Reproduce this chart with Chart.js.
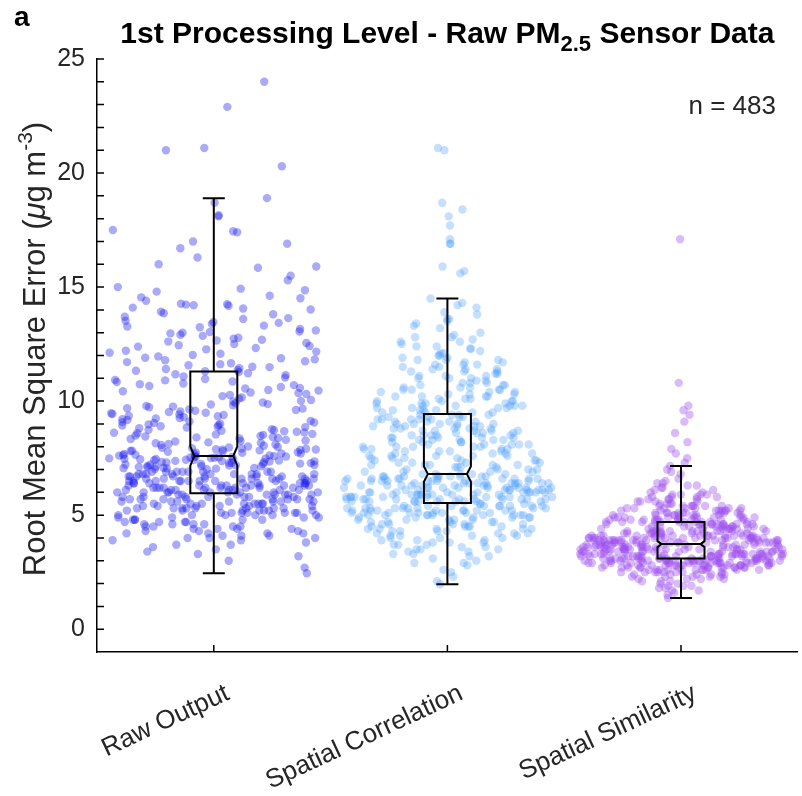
<!DOCTYPE html>
<html>
<head>
<meta charset="utf-8">
<script src="https://cdn.jsdelivr.net/npm/chart.js@4.4.1/dist/chart.umd.min.js"></script>
<style>
html, body { margin: 0; padding: 0; background: #fff; }
canvas { display: block; }
</style>
</head>
<body>
<canvas id="mycanvas" width="802" height="796"></canvas>
<script>
// categories and RMSE values (n = 483 sensors each)
var categories = ['Raw Output', 'Spatial Correlation', 'Spatial Similarity'];

var rawOutput = [
  24.0, 22.9, 21.1, 21.0, 20.3, 18.9, 18.7, 18.15, 18.1, 17.5, 17.45, 17.4, 17.0, 16.9, 16.7, 16.3, 16.0, 15.9, 15.85, 15.5, 15.3, 15.0,
  14.93, 14.86, 14.8, 14.62, 14.55, 14.51, 14.4, 14.27, 14.25, 14.23, 14.2, 14.18, 14.1, 14.06, 14.02,
  13.92, 13.85, 13.81, 13.64, 13.6, 13.52, 13.47, 13.43, 13.31, 13.27, 13.24, 13.1, 13.05, 13.03, 13.0, 13.38, 13.7, 13.16,
  12.97, 12.91, 12.78, 12.74, 12.66, 12.61, 12.55, 12.42, 12.39, 12.33, 12.21, 12.17, 12.08, 12.02, 12.5, 12.86, 12.27, 12.12, 12.69, 12.45,
  11.96, 11.88, 11.83, 11.79, 11.71, 11.62, 11.57, 11.51, 11.49, 11.44, 11.37, 11.33, 11.31, 11.66, 11.9, 11.41, 11.75,
  11.27, 11.22, 11.14, 11.08, 11.03, 10.97, 10.91, 10.86, 10.84, 10.77, 10.7, 10.66, 10.58, 10.55, 10.49, 10.43, 10.38, 10.31, 10.27, 10.22,
  10.16, 10.11, 10.05, 10.01, 10.93, 10.62, 10.35, 11.18, 10.74, 10.46,
  9.98, 9.94, 9.91, 9.87, 9.82, 9.76, 9.73, 9.69, 9.64, 9.61, 9.58, 9.52, 9.47, 9.43, 9.39, 9.34, 9.3, 9.26, 9.21, 9.17,
  9.13, 9.08, 9.04, 9.01, 9.85, 9.55, 9.36, 9.11, 9.67, 9.49, 9.24, 9.79, 9.06, 9.41,
  8.98, 8.95, 8.93, 8.88, 8.84, 8.81, 8.77, 8.74, 8.7, 8.66, 8.63, 8.59, 8.56, 8.52, 8.49, 8.45, 8.41, 8.38, 8.34, 8.3,
  8.27, 8.23, 8.19, 8.15, 8.12, 8.08, 8.04, 8.01, 8.9, 8.72, 8.54, 8.36, 8.17, 8.61, 8.43, 8.25, 8.86, 8.68, 8.1, 8.47,
  7.99, 7.97, 7.94, 7.92, 7.89, 7.86, 7.84, 7.81, 7.78, 7.76, 7.73, 7.7, 7.68, 7.65, 7.63, 7.61, 7.95, 7.87, 7.8, 7.74, 7.67, 7.91, 7.83, 7.71, 7.62, 7.88,
  7.59, 7.57, 7.55, 7.53, 7.52, 7.5, 7.48, 7.46, 7.44, 7.42, 7.41, 7.39, 7.37, 7.35, 7.33, 7.31, 7.3, 7.28, 7.26, 7.24,
  7.22, 7.2, 7.18, 7.16, 7.14, 7.12, 7.1, 7.08, 7.06, 7.04, 7.02, 7.01, 7.56, 7.49, 7.43, 7.36, 7.29, 7.21, 7.15, 7.07,
  7.58, 7.45, 7.32, 7.19, 7.05, 7.54, 7.38, 7.25, 7.11, 7.47,
  6.0, 6.0, 6.0, 6.0, 6.0, 6.0, 6.0, 6.0, 6.0,
  6.1, 6.1, 6.1, 6.1, 6.1, 6.1, 6.1, 6.1,
  6.2, 6.2, 6.2, 6.2, 6.2, 6.2, 6.2, 6.2, 6.2, 6.2,
  6.3, 6.3, 6.3, 6.3, 6.3, 6.3, 6.3, 6.3, 6.3,
  6.4, 6.4, 6.4, 6.4, 6.4, 6.4, 6.4, 6.4,
  6.5, 6.5, 6.5, 6.5, 6.5, 6.5, 6.5, 6.5, 6.5, 6.5,
  6.6, 6.6, 6.6, 6.6, 6.6, 6.6, 6.6, 6.6, 6.6,
  6.7, 6.7, 6.7, 6.7, 6.7, 6.7, 6.7, 6.7,
  6.8, 6.8, 6.8, 6.8, 6.8, 6.8, 6.8, 6.8, 6.8,
  6.9, 6.9, 6.9, 6.9, 6.9, 6.9, 6.9, 6.9,
  5.0, 5.0, 5.0, 5.0, 5.0, 5.0,
  5.1, 5.1, 5.1, 5.1, 5.1, 5.1, 5.1,
  5.2, 5.2, 5.2, 5.2, 5.2, 5.2, 5.2,
  5.3, 5.3, 5.3, 5.3, 5.3, 5.3, 5.3, 5.3,
  5.4, 5.4, 5.4, 5.4, 5.4, 5.4,
  5.5, 5.5, 5.5, 5.5, 5.5, 5.5, 5.5, 5.5,
  5.6, 5.6, 5.6, 5.6, 5.6, 5.6, 5.6,
  5.7, 5.7, 5.7, 5.7, 5.7, 5.7, 5.7, 5.7,
  5.8, 5.8, 5.8, 5.8, 5.8, 5.8, 5.8,
  5.9, 5.9, 5.9, 5.9, 5.9, 5.9, 5.9, 5.9,
  4.0, 4.0, 4.0, 4.1, 4.1, 4.1, 4.2, 4.2, 4.2, 4.2, 4.3, 4.3, 4.3, 4.4, 4.4, 4.4, 4.4, 4.5, 4.5, 4.5, 4.5,
  4.6, 4.6, 4.6, 4.6, 4.7, 4.7, 4.7, 4.7, 4.8, 4.8, 4.8, 4.8, 4.8, 4.9, 4.9, 4.9, 4.9,
  3.0, 3.2, 3.3, 3.4, 3.5, 3.6, 3.7, 3.7, 3.8, 3.9, 3.9,
  2.45, 2.7
];

var spatialCorrelation = [
  21.1, 21.0, 18.7, 18.4, 18.1, 17.7, 17.1, 16.9, 16.9, 15.9, 15.7, 15.6,
  14.5, 14.3, 14.2, 14.1,
  13.9, 13.8, 13.6, 13.6, 13.5, 13.4, 13.3, 13.2, 13.0,
  12.9, 12.8, 12.8, 12.7, 12.6, 12.6, 12.5, 12.4, 12.4, 12.3, 12.3, 12.2, 12.1, 12.1, 12.0, 12.0,
  11.9, 11.9, 11.8, 11.8, 11.8, 11.7, 11.7, 11.6, 11.6, 11.6, 11.5, 11.5, 11.4, 11.4, 11.4,
  11.3, 11.3, 11.3, 11.2, 11.2, 11.1, 11.1, 11.1, 11.0, 11.0, 11.0,
  10.9, 10.9, 10.8, 10.8, 10.8, 10.7, 10.7, 10.7, 10.6, 10.6, 10.6, 10.5, 10.5, 10.5, 10.5, 10.4,
  10.4, 10.4, 10.3, 10.3, 10.3, 10.2, 10.2, 10.2, 10.2, 10.1, 10.1, 10.1, 10.0, 10.0, 10.0, 10.0,
  9.9, 9.9, 9.9, 9.9, 9.8, 9.8, 9.8, 9.8, 9.8, 9.7, 9.7, 9.7, 9.7, 9.6, 9.6, 9.6, 9.6, 9.5, 9.5, 9.5, 9.5,
  9.4, 9.4, 9.4, 9.4, 9.3, 9.3, 9.3, 9.3, 9.2, 9.2, 9.2, 9.2, 9.2, 9.1, 9.1, 9.1, 9.1, 9.0, 9.0, 9.0, 9.0, 9.0,
  8.9, 8.9, 8.9, 8.9, 8.9, 8.8, 8.8, 8.8, 8.8, 8.8, 8.7, 8.7, 8.7, 8.7, 8.7, 8.6, 8.6, 8.6, 8.6,
  8.5, 8.5, 8.5, 8.5, 8.5, 8.4, 8.4, 8.4, 8.4, 8.4, 8.3, 8.3, 8.3, 8.3, 8.3,
  8.2, 8.2, 8.2, 8.2, 8.1, 8.1, 8.1, 8.1, 8.1, 8.0, 8.0, 8.0, 8.0, 8.0,
  7.9, 7.9, 7.9, 7.9, 7.8, 7.8, 7.8, 7.8, 7.7, 7.7, 7.7, 7.7, 7.6, 7.6, 7.6, 7.6, 7.6,
  7.5, 7.5, 7.5, 7.5, 7.4, 7.4, 7.4, 7.4, 7.3, 7.3, 7.3, 7.3,
  7.2, 7.2, 7.2, 7.2, 7.2, 7.1, 7.1, 7.1, 7.1, 7.0, 7.0, 7.0, 7.0,
  6.9, 6.9, 6.9, 6.9, 6.8, 6.8, 6.8, 6.8, 6.8,
  6.7, 6.7, 6.7, 6.7, 6.7, 6.7, 6.7, 6.7, 6.7,
  6.6, 6.6, 6.6, 6.6, 6.6, 6.6, 6.6, 6.6, 6.6, 6.6,
  6.5, 6.5, 6.5, 6.5, 6.5, 6.5, 6.5, 6.5, 6.5,
  6.4, 6.4, 6.4, 6.4, 6.4, 6.4, 6.4, 6.4, 6.4, 6.4,
  6.3, 6.3, 6.3, 6.3, 6.3, 6.3, 6.3, 6.3, 6.3,
  6.2, 6.2, 6.2, 6.2, 6.2, 6.2, 6.2, 6.2, 6.2, 6.2,
  6.1, 6.1, 6.1, 6.1, 6.1, 6.1, 6.1, 6.1, 6.1,
  6.0, 6.0, 6.0, 6.0, 6.0, 6.0, 6.0, 6.0, 6.0, 6.0,
  5.9, 5.9, 5.9, 5.9, 5.9, 5.9, 5.9, 5.9, 5.9, 5.9, 5.9,
  5.8, 5.8, 5.8, 5.8, 5.8, 5.8, 5.8, 5.8, 5.8, 5.8,
  5.7, 5.7, 5.7, 5.7, 5.7, 5.7, 5.7, 5.7, 5.7, 5.7, 5.7,
  5.6, 5.6, 5.6, 5.6, 5.6, 5.6, 5.6, 5.6, 5.6, 5.6,
  5.5, 5.5, 5.5,
  5.4, 5.4, 5.4, 5.4, 5.4, 5.4, 5.4, 5.4, 5.4,
  5.3, 5.3, 5.3, 5.3, 5.3, 5.3, 5.3, 5.3, 5.3,
  5.2, 5.2, 5.2, 5.2, 5.2, 5.2, 5.2, 5.2, 5.2,
  5.1, 5.1, 5.1, 5.1, 5.1, 5.1, 5.1, 5.1, 5.1,
  5.0, 5.0, 5.0, 5.0, 5.0, 5.0, 5.0, 5.0, 5.0,
  4.9, 4.9, 4.9, 4.9, 4.9, 4.9, 4.8, 4.8, 4.8, 4.8, 4.8, 4.7, 4.7, 4.7, 4.7, 4.7,
  4.6, 4.6, 4.6, 4.6, 4.6, 4.5, 4.5, 4.5, 4.5, 4.5, 4.4, 4.4, 4.4, 4.4, 4.4,
  4.3, 4.3, 4.3, 4.3, 4.2, 4.2, 4.2, 4.2, 4.1, 4.1, 4.1, 4.1, 4.0, 4.0, 4.0,
  3.9, 3.9, 3.9, 3.8, 3.8, 3.8, 3.7, 3.7, 3.7, 3.6, 3.6, 3.5, 3.5, 3.5, 3.4, 3.4, 3.3, 3.3, 3.2, 3.2, 3.1, 3.0,
  2.9, 2.9, 2.8, 2.6, 2.5, 2.3, 2.1,
  1.97
];

var spatialSimilarity = [
  17.1, 10.8, 9.8, 9.6, 9.4, 9.1, 8.6, 8.2, 7.9, 7.7, 7.5, 7.3,
  7.16, 7.0, 6.9, 6.8, 6.6, 6.5,
  6.4, 6.4, 6.3, 6.3, 6.2, 6.2, 6.1, 6.1, 6.0, 6.0,
  5.9, 5.9, 5.9, 5.9, 5.8, 5.8, 5.8, 5.8, 5.7, 5.7, 5.7, 5.7, 5.6, 5.6, 5.6, 5.6, 5.5, 5.5, 5.5, 5.5,
  5.4, 5.4, 5.4, 5.4, 5.4, 5.4, 5.4,
  5.3, 5.3, 5.3, 5.3, 5.3, 5.3, 5.3,
  5.2, 5.2, 5.2, 5.2, 5.2, 5.2, 5.2, 5.2,
  5.1, 5.1, 5.1, 5.1, 5.1, 5.1, 5.1, 5.1, 5.1,
  5.0, 5.0, 5.0, 5.0, 5.0, 5.0, 5.0, 5.0, 5.0,
  4.9, 4.9, 4.9, 4.9, 4.9, 4.9, 4.9, 4.9, 4.9, 4.9, 4.9,
  4.8, 4.8, 4.8, 4.8, 4.8, 4.8, 4.8, 4.8, 4.8, 4.8, 4.8,
  4.7, 4.7, 4.7, 4.7, 4.7, 4.7, 4.7, 4.7, 4.7, 4.7, 4.7,
  4.6, 4.6, 4.6, 4.6, 4.6, 4.6, 4.6, 4.6, 4.6, 4.6, 4.6,
  4.5, 4.5, 4.5, 4.5, 4.5, 4.5, 4.5, 4.5, 4.5, 4.5, 4.5,
  4.4, 4.4, 4.4, 4.4, 4.4, 4.4, 4.4, 4.4, 4.4, 4.4, 4.4,
  4.3, 4.3, 4.3, 4.3, 4.3, 4.3, 4.3, 4.3, 4.3, 4.3, 4.3,
  4.2, 4.2, 4.2, 4.2, 4.2, 4.2, 4.2, 4.2, 4.2, 4.2, 4.2,
  4.1, 4.1, 4.1, 4.1, 4.1, 4.1, 4.1, 4.1, 4.1, 4.1, 4.1, 4.1, 4.1, 4.1, 4.1, 4.1,
  4.0, 4.0, 4.0, 4.0, 4.0, 4.0, 4.0, 4.0, 4.0, 4.0, 4.0, 4.0, 4.0, 4.0, 4.0, 4.0, 4.0,
  3.9, 3.9, 3.9, 3.9, 3.9, 3.9, 3.9, 3.9, 3.9, 3.9, 3.9, 3.9, 3.9, 3.9, 3.9, 3.9, 3.9,
  3.8, 3.8, 3.8, 3.8, 3.8, 3.8, 3.8, 3.8, 3.8, 3.8, 3.8, 3.8, 3.8, 3.8, 3.8, 3.8,
  3.7, 3.7, 3.7, 3.7, 3.7, 3.7, 3.7, 3.7, 3.7, 3.7, 3.7, 3.7, 3.7, 3.7, 3.7, 3.7,
  3.6, 3.6, 3.6, 3.6, 3.6, 3.6, 3.6, 3.6, 3.6, 3.6, 3.6, 3.6, 3.6, 3.6, 3.6, 3.6, 3.6,
  3.5, 3.5, 3.5, 3.5, 3.5, 3.5, 3.5, 3.5, 3.5, 3.5, 3.5, 3.5, 3.5, 3.5, 3.5, 3.5, 3.5,
  3.4, 3.4, 3.4, 3.4, 3.4, 3.4, 3.4, 3.4, 3.4, 3.4, 3.4, 3.4, 3.4, 3.4, 3.4, 3.4,
  3.3, 3.3, 3.3, 3.3, 3.3, 3.3, 3.3, 3.3, 3.3, 3.3, 3.3, 3.3, 3.3, 3.3, 3.3, 3.3, 3.3, 3.3, 3.3,
  3.2, 3.2, 3.2, 3.2, 3.2, 3.2, 3.2, 3.2, 3.2, 3.2, 3.2, 3.2, 3.2, 3.2, 3.2, 3.2, 3.2, 3.2,
  3.1, 3.1, 3.1, 3.1, 3.1, 3.1, 3.1, 3.1, 3.1, 3.1, 3.1, 3.1, 3.1, 3.1, 3.1, 3.1, 3.1, 3.1,
  3.0, 3.0, 3.0, 3.0, 3.0, 3.0, 3.0, 3.0, 3.0, 3.0, 3.0, 3.0, 3.0, 3.0, 3.0, 3.0, 3.0, 3.0, 3.0, 3.0, 3.0, 3.0,
  2.9, 2.9, 2.9, 2.9, 2.9, 2.9, 2.9, 2.9, 2.9, 2.9, 2.9, 2.9, 2.9, 2.9, 2.9, 2.9, 2.9, 2.9, 2.9,
  2.8, 2.8, 2.8, 2.8, 2.8, 2.8, 2.8, 2.8, 2.8, 2.8, 2.8, 2.8, 2.8, 2.8, 2.8, 2.8, 2.8,
  2.7, 2.7, 2.7, 2.7, 2.7, 2.7, 2.7, 2.7, 2.7, 2.7, 2.7, 2.7, 2.7, 2.7,
  2.6, 2.6, 2.6, 2.6, 2.6, 2.6, 2.6, 2.6, 2.6, 2.6,
  2.5, 2.5, 2.5, 2.5, 2.5, 2.5, 2.5, 2.5,
  2.4, 2.4, 2.4, 2.4, 2.4, 2.4, 2.3, 2.3, 2.3, 2.3, 2.3, 2.2, 2.2, 2.2, 2.2, 2.1, 2.1, 2.1, 2.0, 2.0,
  1.9, 1.9, 1.9, 1.8, 1.8, 1.7, 1.7, 1.6, 1.5,
  1.37
];

// notched box statistics
var boxQ1 = [5.96, 5.53, 3.1];
var boxMedian = [7.59, 6.8, 3.73];
var boxQ3 = [11.3, 9.43, 4.7];
var whiskerLow = [2.45, 1.97, 1.37];
var whiskerHigh = [18.9, 14.5, 7.16];
var notchHalf = [0.42, 0.34, 0.13];

var yMajorTicks = [0, 5, 10, 15, 20, 25];
var yMinorStep = 1;

var FONT = '"Liberation Sans", Arial, Helvetica, sans-serif';
var dotColors = ['rgba(20, 20, 240, 0.36)', 'rgba(70, 155, 255, 0.32)', 'rgba(155, 75, 240, 0.38)'];

// deterministic scatter across the band (layout only, not data)
function jitterFrac(i, g) {
  var s = Math.sin((i + 1) * 12.9898 + (g + 1) * 78.233) * 43758.5453;
  return (s - Math.floor(s)) * 2 - 1;
}

// horizontal spread of the dots: uniform for the raw data,
// violin-shaped (density based) for the two processed series
function spread(values, g, shaped, bw, power) {
  var dens = values.map(function(v) {
    var s = 0;
    for (var k = 0; k < values.length; k++) {
      var z = (v - values[k]) / bw;
      s += Math.exp(-0.5 * z * z);
    }
    return s;
  });
  var peak = Math.max.apply(null, dens);
  return values.map(function(v, i) {
    var w = shaped ? 0.45 * Math.pow(dens[i] / peak, power) : 0.45;
    return w * jitterFrac(i, g);
  });
}

var groups = [rawOutput, spatialCorrelation, spatialSimilarity];
var bandwidths = [1, 1.0, 0.3];
var powers = [1, 0.5, 0.6];
var datasets = groups.map(function(vals, g) {
  var off = spread(vals, g, g > 0, bandwidths[g], powers[g]);
  return {
    label: categories[g],
    data: vals.map(function(v, i) { return { x: g + 1 + off[i], y: v }; }),
    backgroundColor: dotColors[g],
    borderWidth: 0,
    pointRadius: 4.2,
    pointHoverRadius: 4.2
  };
});

function drawRuns(ctx, runs, cx, y) {
  var total = 0;
  runs.forEach(function(r) { ctx.font = r.font; r.w = ctx.measureText(r.t).width; total += r.w; });
  var x = cx - total / 2;
  runs.forEach(function(r) { ctx.font = r.font; ctx.fillText(r.t, x, y + (r.dy || 0)); x += r.w; });
}

var decorations = {
  id: 'decorations',
  afterDatasetsDraw: function(chart) {
    var ctx = chart.ctx, xs = chart.scales.x, ys = chart.scales.y, area = chart.chartArea;
    ctx.save();
    ctx.strokeStyle = '#000';
    ctx.lineWidth = 2;
    for (var g = 0; g < 3; g++) {
      var xc = xs.getPixelForValue(g + 1);
      var hw = 23.5, cap = 11, ins = 4;
      var q1 = ys.getPixelForValue(boxQ1[g]), q3 = ys.getPixelForValue(boxQ3[g]);
      var md = ys.getPixelForValue(boxMedian[g]);
      var nt = ys.getPixelForValue(boxMedian[g] + notchHalf[g]);
      var nb = ys.getPixelForValue(boxMedian[g] - notchHalf[g]);
      var wl = ys.getPixelForValue(whiskerLow[g]), wh = ys.getPixelForValue(whiskerHigh[g]);
      ctx.beginPath();
      ctx.moveTo(xc - hw, q3); ctx.lineTo(xc + hw, q3); ctx.lineTo(xc + hw, nt);
      ctx.lineTo(xc + hw - ins, md); ctx.lineTo(xc + hw, nb); ctx.lineTo(xc + hw, q1);
      ctx.lineTo(xc - hw, q1); ctx.lineTo(xc - hw, nb); ctx.lineTo(xc - hw + ins, md);
      ctx.lineTo(xc - hw, nt); ctx.closePath();
      ctx.moveTo(xc - hw + ins, md); ctx.lineTo(xc + hw - ins, md);
      ctx.moveTo(xc, q3); ctx.lineTo(xc, wh);
      ctx.moveTo(xc - cap, wh); ctx.lineTo(xc + cap, wh);
      ctx.moveTo(xc, q1); ctx.lineTo(xc, wl);
      ctx.moveTo(xc - cap, wl); ctx.lineTo(xc + cap, wl);
      ctx.stroke();
    }
    // ticks pointing into the plot
    ctx.lineWidth = 1.5;
    ctx.beginPath();
    for (var v = yMajorTicks[0]; v <= yMajorTicks[yMajorTicks.length - 1]; v += yMinorStep) {
      var py = ys.getPixelForValue(v);
      ctx.moveTo(area.left, py); ctx.lineTo(area.left + 7, py);
    }
    for (var c = 0; c < categories.length; c++) {
      var px = xs.getPixelForValue(c + 1);
      ctx.moveTo(px, area.bottom); ctx.lineTo(px, area.bottom - 7);
    }
    ctx.stroke();

    // texts
    ctx.fillStyle = '#000';
    ctx.textAlign = 'left';
    ctx.textBaseline = 'alphabetic';
    ctx.font = 'bold 28px ' + FONT;
    ctx.fillText('a', 14, 26);
    drawRuns(ctx, [
      { t: '1st Processing Level - Raw PM', font: 'bold 30px ' + FONT },
      { t: '2.5', font: 'bold 22px ' + FONT, dy: 8 },
      { t: ' Sensor Data', font: 'bold 30px ' + FONT }
    ], (area.left + area.right) / 2, 43);

    ctx.fillStyle = '#262626';
    ctx.font = '26px ' + FONT;
    ctx.textAlign = 'right';
    ctx.fillText('n = ' + rawOutput.length, 776, 114);
    ctx.textAlign = 'left';

    ctx.translate(45, 349);
    ctx.rotate(-Math.PI / 2);
    drawRuns(ctx, [
      { t: 'Root Mean Square Error (', font: '31px ' + FONT },
      { t: '\u03bc', font: 'italic 31px ' + FONT },
      { t: 'g m', font: '31px ' + FONT },
      { t: '-3', font: '21px ' + FONT, dy: -13 },
      { t: ')', font: '31px ' + FONT }
    ], 0, 0);
    ctx.restore();
  }
};

var ctx = document.getElementById('mycanvas');
var chart = new Chart(ctx, {
  type: 'scatter',
  data: { datasets: datasets },
  options: {
    responsive: false,
    animation: false,
    devicePixelRatio: 1,
    layout: { padding: { left: 0, top: 59, right: 0, bottom: 0 } },
    plugins: { legend: { display: false }, tooltip: { enabled: false }, title: { display: false } },
    scales: {
      x: {
        type: 'linear',
        min: 0.5,
        max: 3.5,
        grid: { display: false, drawTicks: false },
        border: { display: true, color: '#000', width: 1.5 },
        afterBuildTicks: function(scale) {
          scale.ticks = categories.map(function(c, i) { return { value: i + 1 }; });
        },
        afterFit: function(scale) {
          scale.height = 144;
          scale.paddingLeft = 0;
          scale.paddingRight = 0;
        },
        ticks: {
          autoSkip: false,
          minRotation: 25,
          maxRotation: 25,
          padding: 26,
          labelOffset: 14,
          color: '#262626',
          font: { family: FONT, size: 26 },
          callback: function(value, index) { return categories[index]; }
        }
      },
      y: {
        min: -1,
        max: 25,
        grid: { display: false, drawTicks: false },
        border: { display: true, color: '#000', width: 1.5 },
        afterBuildTicks: function(scale) {
          scale.ticks = yMajorTicks.map(function(v) { return { value: v }; });
        },
        afterFit: function(scale) { scale.width = 97; },
        ticks: {
          padding: 12,
          color: '#262626',
          font: { family: FONT, size: 25 }
        }
      }
    }
  },
  plugins: [decorations]
});
</script>
</body>
</html>
